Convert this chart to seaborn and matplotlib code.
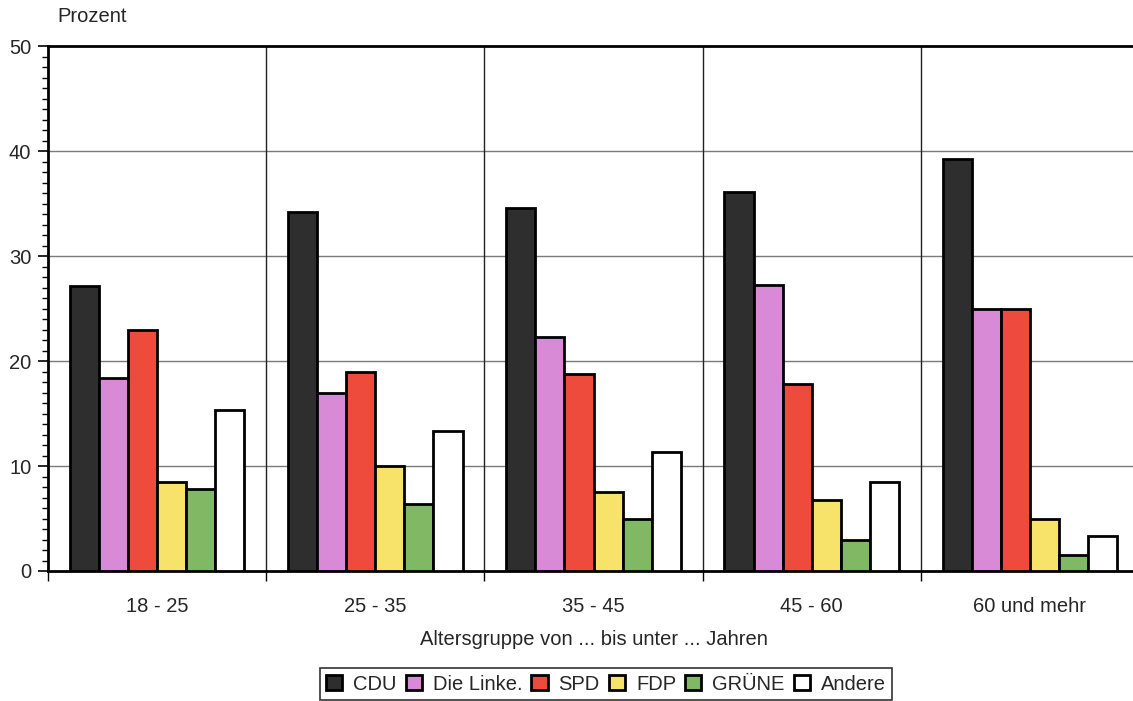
import matplotlib
matplotlib.use('Agg')
import matplotlib.pyplot as plt
from matplotlib.ticker import MultipleLocator, FixedLocator
import seaborn as sns
import pandas as pd

sns.set_style('white')
plt.rcParams['font.family'] = ['Liberation Sans', 'DejaVu Sans']

# data
groups = ['18 - 25', '25 - 35', '35 - 45', '45 - 60', '60 und mehr']
parties = ['CDU', 'Die Linke.', 'SPD', 'FDP', 'GRÜNE', 'Andere']
cdu = [27.1, 34.2, 34.6, 36.1, 39.2]
linke = [18.4, 17.0, 22.3, 27.2, 25.0]
spd = [23.0, 19.0, 18.8, 17.8, 25.0]
fdp = [8.5, 10.0, 7.5, 6.8, 5.0]
gruene = [7.8, 6.4, 5.0, 3.0, 1.5]
andere = [15.3, 13.3, 11.3, 8.5, 3.3]
colors = ['#2e2e2e', '#d98ad6', '#ef4b3c', '#f8e36a', '#80b863', '#ffffff']

values = [cdu, linke, spd, fdp, gruene, andere]
rows = []
for p, vals in zip(parties, values):
    for g, v in zip(groups, vals):
        rows.append({'Altersgruppe': g, 'Partei': p, 'Prozent': v})
df = pd.DataFrame(rows)

fig = plt.figure(figsize=(11.33, 7.01), dpi=100)
# axes runs slightly past the right edge like the scan
ax = fig.add_axes([48/1133, 1 - 571/701, (1139 - 48)/1133, (571 - 46)/701])

sns.barplot(data=df, x='Altersgruppe', y='Prozent', hue='Partei',
            hue_order=parties, order=groups, saturation=1,
            palette=dict(zip(parties, colors)), width=0.8,
            edgecolor='black', linewidth=2, ax=ax, zorder=3)

ax.set_xlim(-0.5, 4.5)
ax.set_ylim(0, 50)
ax.yaxis.set_major_locator(MultipleLocator(10))
ax.yaxis.set_minor_locator(MultipleLocator(1))
ax.xaxis.set_minor_locator(FixedLocator([-0.5, 0.5, 1.5, 2.5, 3.5, 4.5]))
ax.tick_params(axis='y', which='major', length=7, width=1.2, direction='out',
               left=True, labelsize=14.5, pad=5, color='black')
ax.tick_params(axis='y', which='minor', length=4, width=1, direction='out',
               left=True, color='black')
ax.tick_params(axis='x', which='major', length=0, labelsize=14.5, pad=19)
ax.tick_params(axis='x', which='minor', length=7, width=1, direction='out',
               bottom=True, color='black')

for y in [10, 20, 30, 40]:
    ax.axhline(y, color='#7a7a7a', lw=1, zorder=1)
for x in [0.5, 1.5, 2.5, 3.5]:
    ax.axvline(x, color='#222222', lw=1, zorder=1)

for s in ['left', 'bottom', 'top']:
    ax.spines[s].set_linewidth(2)
    ax.spines[s].set_color('black')
ax.spines['right'].set_visible(False)

ax.set_ylabel('')
ax.set_xlabel('Altersgruppe von ... bis unter ... Jahren', fontsize=14.5, labelpad=10)
fig.text(57/1133, 1 - 16/701, 'Prozent', fontsize=14.5, va='center', ha='left')

handles, labels = ax.get_legend_handles_labels()
ax.get_legend().remove()
leg = fig.legend(handles, labels, loc='center', ncol=6,
                 bbox_to_anchor=(606/1133, 1 - 684/701), fontsize=14.5,
                 frameon=True, fancybox=False, edgecolor='black',
                 handlelength=0.8, handleheight=0.8, handletextpad=0.55,
                 columnspacing=0.45, borderpad=0.3, borderaxespad=0)
leg.get_frame().set_linewidth(1.2)
for h in leg.legend_handles:
    h.set_linewidth(2)
    h.set_edgecolor('black')

fig.savefig('out.png', dpi=100)
